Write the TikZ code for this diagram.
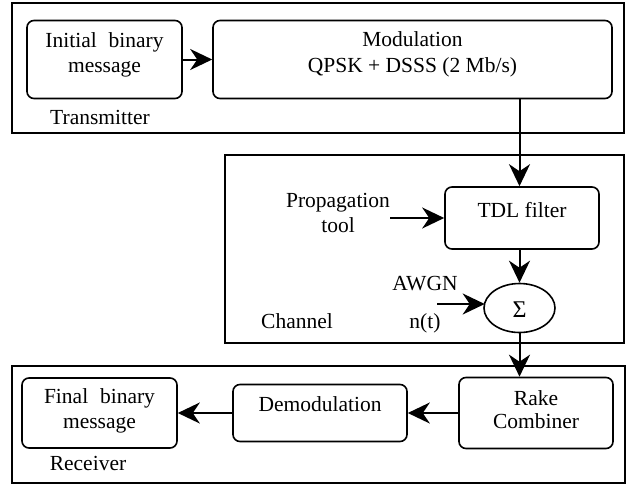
\documentclass[tikz,border=0pt]{standalone}
\usepackage{fontspec}
\setmainfont{Liberation Serif}
\usetikzlibrary{arrows.meta,shapes.geometric}
\begin{document}
\begin{tikzpicture}[x=1pt,y=-1pt,
  font=\fontsize{21.5}{25}\selectfont,
  frame/.style={draw, line width=1.6pt, inner sep=0pt},
  box/.style={draw, line width=1.6pt, rounded corners=7pt, inner sep=0pt},
  txt/.style={anchor=base, inner sep=0pt},
  arr/.style={line width=2pt, -{Stealth[length=22pt,width=21pt,inset=7pt]}}]
\useasboundingbox (0,0) rectangle (631,485);
% frames
\node[frame, minimum width=612pt, minimum height=130pt] (tx) at (318,68) {};
\node[frame, minimum width=399pt, minimum height=188pt] (ch) at (424.5,249) {};
\node[frame, minimum width=613pt, minimum height=117pt] (rx) at (318.5,424.5) {};
% transmitter
\node[box, minimum width=155pt, minimum height=78pt] (init) at (104.5,59.5) {};
\node[box, minimum width=399pt, minimum height=78pt] (mod) at (412.5,59.5) {};
\node[txt] (t1) at (104.5,47) {Initial\hspace{0.3em} binary};
\node[txt] (t2) at (104.5,72) {message};
\node[txt] (t3) at (412.5,46) {Modulation};
\node[txt] (t4) at (412.5,72) {QPSK + DSSS (2 Mb/s)};
\node[txt] (t5) at (100,124) {Transmitter};
% channel
\node[box, minimum width=154pt, minimum height=62pt] (tdl) at (522,218) {};
\node[txt] (t6) at (522,217) {TDL filter};
\node[draw, ellipse, line width=1.6pt, minimum width=71pt, minimum height=49pt, inner sep=0pt] (sig) at (519.5,308) {};
\node[txt, font=\fontsize{24}{25}\selectfont] (t7) at (519.5,317) {Σ};
\node[txt] (t8) at (338,207) {Propagation};
\node[txt] (t9) at (338,232) {tool};
\node[txt] (t10) at (425,290) {AWGN};
\node[txt] (t11) at (425,328) {n(t)};
\node[txt] (t12) at (297,328) {Channel};
\coordinate (pin) at (390,218);
\coordinate (nin) at (437,304);
% receiver
\node[box, minimum width=155pt, minimum height=70pt] (final) at (99.5,413) {};
\node[box, minimum width=174pt, minimum height=57pt] (demod) at (320,413) {};
\node[box, minimum width=154pt, minimum height=71pt] (rake) at (536,413) {};
\node[txt] (t13) at (99.5,403) {Final\hspace{0.3em} binary};
\node[txt] (t14) at (99.5,428) {message};
\node[txt] (t15) at (320,411) {Demodulation};
\node[txt] (t16) at (536,405) {Rake};
\node[txt] (t17) at (536,428) {Combiner};
\node[txt] (t18) at (88,470) {Receiver};
% connectors
\draw[arr] (init.east) -- (mod.west);
\draw[arr] (mod.south -| sig.center) -- (tdl.north -| sig.center);
\draw[arr] (pin) -- (tdl.west |- pin);
\draw[arr] (tdl.south -| sig.center) -- (sig.north);
\draw[arr] (nin) -- ([xshift=1.5pt]sig.west |- nin);
\draw[arr] (sig.south) -- (rake.north -| sig.center);
\draw[arr] (rake.west) -- (demod.east);
\draw[arr] (demod.west) -- (final.east);
\end{tikzpicture}
\end{document}
